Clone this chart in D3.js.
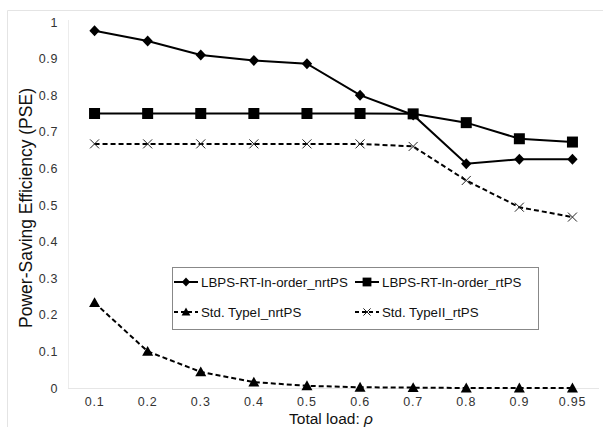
<!DOCTYPE html>
<html>
<head>
<meta charset="utf-8">
<script src="https://cdn.jsdelivr.net/npm/d3@7"></script>
<style>
  body { margin: 0; background: #fff; }
  svg { font-family: "Liberation Sans", Arial, sans-serif; }
</style>
</head>
<body>
<div id="chart"></div>
<script>
// categories (total load)
const loads = ["0.1", "0.2", "0.3", "0.4", "0.5", "0.6", "0.7", "0.8", "0.9", "0.95"];
const yTicks = [0, 0.1, 0.2, 0.3, 0.4, 0.5, 0.6, 0.7, 0.8, 0.9, 1];

// series values
const lbpsNrt = [0.976, 0.948, 0.91, 0.895, 0.886, 0.80, 0.746, 0.613, 0.625, 0.625];
const lbpsRt  = [0.75, 0.75, 0.75, 0.75, 0.75, 0.75, 0.749, 0.725, 0.681, 0.672];
const typeINrt = [0.233, 0.10, 0.044, 0.016, 0.006, 0.002, 0.001, 0.0, 0.0, 0.0];
const typeIIRt = [0.667, 0.667, 0.667, 0.667, 0.667, 0.667, 0.66, 0.567, 0.494, 0.467];

const seriesNames = ["LBPS-RT-In-order_nrtPS", "LBPS-RT-In-order_rtPS", "Std. TypeI_nrtPS", "Std. TypeII_rtPS"];

const W = 603, H = 427;
const margin = { top: 22, right: 4, bottom: 40, left: 68 };

const svg = d3.select("#chart").append("svg")
    .attr("width", W)
    .attr("height", H);

// outer frame (light)
svg.append("path")
    .attr("d", `M7.5,${H} L7.5,10.5 L${W},10.5`)
    .attr("fill", "none")
    .attr("stroke", "#e4e4e4");

const x = d3.scaleBand()
    .domain(loads)
    .range([margin.left, W - margin.right]);

const y = d3.scaleLinear()
    .domain([0, 1])
    .range([388, 22]);

// axis lines
svg.append("line")
    .attr("x1", margin.left).attr("x2", W - margin.right)
    .attr("y1", y(0) + 0.5).attr("y2", y(0) + 0.5)
    .attr("stroke", "#e6e6e6");
svg.append("line")
    .attr("x1", margin.left + 0.5).attr("x2", margin.left + 0.5)
    .attr("y1", y(1) - 2).attr("y2", y(0))
    .attr("stroke", "#ececec");

// y axis
const yAxis = svg.append("g")
    .attr("transform", `translate(${margin.left},0)`)
    .call(d3.axisLeft(y).tickValues(yTicks).tickSize(0).tickPadding(10).tickFormat(d3.format("")));
yAxis.select(".domain").remove();
yAxis.selectAll("text")
    .attr("font-size", 12.5)
    .attr("font-family", "Liberation Sans, Arial, sans-serif")
    .attr("fill", "#333")
    .attr("letter-spacing", 0.6);

// x axis
const xAxis = svg.append("g")
    .attr("transform", `translate(0,${y(0)})`)
    .call(d3.axisBottom(x).tickSize(0).tickPadding(9));
xAxis.select(".domain").remove();
xAxis.selectAll("text")
    .attr("font-size", 12.5)
    .attr("font-family", "Liberation Sans, Arial, sans-serif")
    .attr("fill", "#333")
    .attr("letter-spacing", 0.8);

// axis titles
svg.append("text")
    .attr("transform", `translate(32,${(y(0) + y(1)) / 2 + 3}) rotate(-90)`)
    .attr("text-anchor", "middle")
    .attr("font-size", 17.5)
    .attr("fill", "#111")
    .text("Power-Saving Efficiency (PSE)");

const xt = svg.append("text")
    .attr("x", 331)
    .attr("y", 424)
    .attr("text-anchor", "middle")
    .attr("font-size", 15.5)
    .attr("fill", "#111");
xt.append("tspan").text("Total load: ");
xt.append("tspan").attr("font-style", "italic").text("ρ");

const cx = d => x(d) + x.bandwidth() / 2;

const series = [
    { name: seriesNames[0], values: lbpsNrt, dash: null, marker: "diamond" },
    { name: seriesNames[1], values: lbpsRt, dash: null, marker: "square" },
    { name: seriesNames[2], values: typeINrt, dash: "5,3", marker: "triangle" },
    { name: seriesNames[3], values: typeIIRt, dash: "5,3", marker: "cross" }
];

const line = d3.line()
    .x((d, i) => cx(loads[i]))
    .y(d => y(d));

function drawMarker(g, type, px, py, scale) {
    const s = scale || 1;
    if (type === "diamond") {
        const rx = 5.2 * s, ry = 5.5 * s;
        g.append("path")
            .attr("d", `M${px},${py - ry} L${px + rx},${py} L${px},${py + ry} L${px - rx},${py} Z`)
            .attr("fill", "#000");
    } else if (type === "square") {
        const r = 5.5 * s;
        g.append("rect")
            .attr("x", px - r).attr("y", py - r)
            .attr("width", 2 * r).attr("height", 2 * r)
            .attr("fill", "#000");
    } else if (type === "triangle") {
        const r = 5.5 * s;
        g.append("path")
            .attr("d", `M${px},${py - r} L${px + r},${py + r * 0.8} L${px - r},${py + r * 0.8} Z`)
            .attr("fill", "#000");
    } else if (type === "cross") {
        const r = 4.5 * s;
        g.append("path")
            .attr("d", `M${px - r},${py - r} L${px + r},${py + r} M${px - r},${py + r} L${px + r},${py - r}`)
            .attr("stroke", "#222")
            .attr("stroke-width", 1)
            .attr("fill", "none");
    }
}

series.forEach(s => {
    const g = svg.append("g");
    g.append("path")
        .datum(s.values)
        .attr("d", line)
        .attr("fill", "none")
        .attr("stroke", "#000")
        .attr("stroke-width", 2)
        .attr("stroke-dasharray", s.dash);
    s.values.forEach((v, i) => drawMarker(g, s.marker, cx(loads[i]), y(v)));
});

// legend
const legend = svg.append("g");
legend.append("rect")
    .attr("x", 172.5).attr("y", 267.5)
    .attr("width", 366).attr("height", 62)
    .attr("fill", "#fff")
    .attr("stroke", "#888")
    .attr("stroke-width", 1);

const legPos = [
    { x: 174, y: 282 },
    { x: 355, y: 282 },
    { x: 174, y: 312 },
    { x: 355, y: 312 }
];

series.forEach((s, i) => {
    const p = legPos[i];
    const g = legend.append("g");
    g.append("line")
        .attr("x1", p.x).attr("x2", p.x + 24)
        .attr("y1", p.y).attr("y2", p.y)
        .attr("stroke", "#000")
        .attr("stroke-width", 2)
        .attr("stroke-dasharray", s.dash ? "4,3" : null);
    drawMarker(g, s.marker, p.x + 12, p.y, 0.8);
    g.append("text")
        .attr("x", p.x + 27)
        .attr("y", p.y + 4.5)
        .attr("font-size", 13.3)
        .attr("fill", "#111")
        .text(s.name);
});
</script>
</body>
</html>
